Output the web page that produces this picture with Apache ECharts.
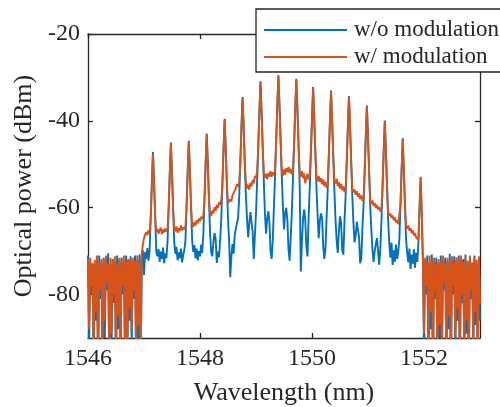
<!DOCTYPE html>
<html>
<head>
<meta charset="utf-8">
<script src="https://cdn.jsdelivr.net/npm/echarts@6/dist/echarts.min.js"></script>
<style>
html,body{margin:0;padding:0;background:#fff;}
#chart{width:500px;height:407px;}
</style>
</head>
<body>
<div id="chart"></div>
<script>
// Wavelength grid (nm)
const wavelength = [
1546,1546.02,1546.04,1546.06,1546.08,1546.1,1546.12,1546.14,1546.16,1546.18,
1546.2,1546.22,1546.24,1546.26,1546.28,1546.3,1546.32,1546.34,1546.36,1546.38,
1546.4,1546.42,1546.44,1546.46,1546.48,1546.5,1546.52,1546.54,1546.56,1546.58,
1546.6,1546.62,1546.64,1546.66,1546.68,1546.7,1546.72,1546.74,1546.76,1546.78,
1546.8,1546.82,1546.84,1546.86,1546.88,1546.9,1546.92,1546.94,1546.96,1546.98,
1547,1547.02,1547.04,1547.06,1547.08,1547.1,1547.12,1547.14,1547.16,1547.18,
1547.2,1547.22,1547.24,1547.26,1547.28,1547.3,1547.32,1547.34,1547.36,1547.38,
1547.4,1547.42,1547.44,1547.46,1547.48,1547.5,1547.52,1547.54,1547.56,1547.58,
1547.6,1547.62,1547.64,1547.66,1547.68,1547.7,1547.72,1547.74,1547.76,1547.78,
1547.8,1547.82,1547.84,1547.86,1547.88,1547.9,1547.92,1547.94,1547.96,1547.98,
1548,1548.02,1548.04,1548.06,1548.08,1548.1,1548.12,1548.14,1548.16,1548.18,
1548.2,1548.22,1548.24,1548.26,1548.28,1548.3,1548.32,1548.34,1548.36,1548.38,
1548.4,1548.42,1548.44,1548.46,1548.48,1548.5,1548.52,1548.54,1548.56,1548.58,
1548.6,1548.62,1548.64,1548.66,1548.68,1548.7,1548.72,1548.74,1548.76,1548.78,
1548.8,1548.82,1548.84,1548.86,1548.88,1548.9,1548.92,1548.94,1548.96,1548.98,
1549,1549.02,1549.04,1549.06,1549.08,1549.1,1549.12,1549.14,1549.16,1549.18,
1549.2,1549.22,1549.24,1549.26,1549.28,1549.3,1549.32,1549.34,1549.36,1549.38,
1549.4,1549.42,1549.44,1549.46,1549.48,1549.5,1549.52,1549.54,1549.56,1549.58,
1549.6,1549.62,1549.64,1549.66,1549.68,1549.7,1549.72,1549.74,1549.76,1549.78,
1549.8,1549.82,1549.84,1549.86,1549.88,1549.9,1549.92,1549.94,1549.96,1549.98,
1550,1550.02,1550.04,1550.06,1550.08,1550.1,1550.12,1550.14,1550.16,1550.18,
1550.2,1550.22,1550.24,1550.26,1550.28,1550.3,1550.32,1550.34,1550.36,1550.38,
1550.4,1550.42,1550.44,1550.46,1550.48,1550.5,1550.52,1550.54,1550.56,1550.58,
1550.6,1550.62,1550.64,1550.66,1550.68,1550.7,1550.72,1550.74,1550.76,1550.78,
1550.8,1550.82,1550.84,1550.86,1550.88,1550.9,1550.92,1550.94,1550.96,1550.98,
1551,1551.02,1551.04,1551.06,1551.08,1551.1,1551.12,1551.14,1551.16,1551.18,
1551.2,1551.22,1551.24,1551.26,1551.28,1551.3,1551.32,1551.34,1551.36,1551.38,
1551.4,1551.42,1551.44,1551.46,1551.48,1551.5,1551.52,1551.54,1551.56,1551.58,
1551.6,1551.62,1551.64,1551.66,1551.68,1551.7,1551.72,1551.74,1551.76,1551.78,
1551.8,1551.82,1551.84,1551.86,1551.88,1551.9,1551.92,1551.94,1551.96,1551.98,
1552,1552.02,1552.04,1552.06,1552.08,1552.1,1552.12,1552.14,1552.16,1552.18,
1552.2,1552.22,1552.24,1552.26,1552.28,1552.3,1552.32,1552.34,1552.36,1552.38,
1552.4,1552.42,1552.44,1552.46,1552.48,1552.5,1552.52,1552.54,1552.56,1552.58,
1552.6,1552.62,1552.64,1552.66,1552.68,1552.7,1552.72,1552.74,1552.76,1552.78,
1552.8,1552.82,1552.84,1552.86,1552.88,1552.9,1552.92,1552.94,1552.96,1552.98,
1553];

// Optical power without modulation (dBm)
const powerNoMod = [
-71,-92,-72.5,-80,-72.8,-99,-73,-86,-72,-99,
-71,-81,-72.8,-99,-71.5,-90,-72,-79,-70.5,-99,
-73,-93,-71.8,-82,-72.5,-99,-71,-88,-72,-97,
-71.5,-80,-72.8,-95,-71,-99,-72,-86,-71.2,-92,
-72.5,-81,-71,-99,-72,-91,-70.8,-99,-71.2,-69.8,
-75.5,-70.2,-71.8,-69.3,-72.2,-69.8,-62.2,-54.2,-47.2,-54.2,
-62.2,-70.2,-71.2,-69.5,-72.5,-70.1,-71.8,-69.2,-72.8,-70.5,
-71.6,-68,-60,-52,-45,-52,-60,-68,-70.6,-69,
-72.1,-70.3,-71.6,-69.4,-72.6,-70.9,-69.8,-67.6,-59.6,-51.6,
-44.6,-51.6,-59.6,-67.6,-70.2,-68.6,-71.6,-69.4,-72.1,-70,
-71.2,-68.5,-70.4,-65.9,-57.9,-49.9,-42.9,-49.9,-57.9,-65.9,
-70.3,-71.2,-67.8,-65.8,-67.4,-72.7,-70.1,-71.4,-67.5,-62.5,
-54.5,-46.5,-39.5,-46.5,-54.5,-62.5,-67.5,-76,-71.2,-68.4,
-70.6,-66.2,-64.8,-63.5,-62.5,-57.5,-49.5,-41.5,-34.5,-41.5,
-49.5,-57.5,-62.5,-66.8,-63.8,-61,-60.6,-65.5,-71.8,-66.5,
-61.2,-54,-46,-38,-30.9,-38,-46,-54,-61.5,-66,
-62.5,-60.8,-63.5,-70,-71.8,-67.5,-59.8,-52.6,-44.6,-36.6,
-29.5,-36.6,-44.6,-52.6,-59.6,-65,-61.2,-60,-62.8,-69.5,
-72.2,-67,-60.8,-53.4,-45.4,-37.4,-30.3,-37.4,-45.4,-55,
-74.7,-68,-62.5,-60.4,-63,-69,-71.2,-62,-55.3,-47.3,
-39.3,-32.2,-39.3,-47.3,-55.3,-61.8,-67,-63,-61.3,-62.4,
-68.8,-71.8,-69.5,-62.5,-56.1,-48.1,-40.1,-33,-40.1,-48.1,
-56.1,-62.8,-67.5,-70.4,-65.5,-62,-63.5,-69.8,-70.8,-63.2,
-57.4,-49.4,-41.4,-34.3,-41.4,-49.4,-57.4,-63.5,-68,-66.5,
-63.2,-63,-66.8,-72.8,-71.8,-64.8,-59.6,-51.6,-43.6,-36.5,
-43.6,-51.6,-59.6,-65.2,-69.8,-72.5,-70,-68.2,-67,-66.7,
-73.1,-69.5,-63,-55,-47,-39.9,-47,-55,-63,-68.2,
-71.5,-68,-73.2,-69.8,-72.4,-68.5,-71.8,-70.2,-67.3,-59.3,
-51.3,-44,-51.3,-59.3,-67.3,-70.5,-72.6,-69.4,-74.1,-70.8,
-72.9,-69.6,-73.8,-70.4,-72.5,-68.2,-60.2,-52.9,-61.5,-72.5,
-93,-72,-80,-71,-99,-72.8,-88,-70.8,-99,-72.2,
-81,-71.5,-99,-72.5,-90,-71,-97,-73,-79,-71.5,
-99,-72.2,-88,-70.6,-99,-72.8,-80,-71.2,-94,-72,
-86,-71,-99,-72.5,-82,-71.8,-96,-70.8,-89,-72.4,
-99,-71.2,-81,-72.6,-95,-71,-87,-72.8,-99,-71.5,
-86];

// Optical power with modulation (dBm)
const powerMod = [
-72,-88,-71.5,-78,-73,-95,-72,-84,-71,-99,
-72.5,-79,-71.8,-92,-72,-86,-71,-77,-73,-96,
-71.5,-89,-72,-80,-71.2,-97,-72.8,-85,-71.5,-94,
-72,-78,-71,-91,-72.5,-99,-71.8,-83,-72,-88,
-71.5,-79,-72.2,-95,-71,-87,-72.5,-98,-70.5,-68.5,
-67,-66.2,-65.6,-66.3,-65.2,-65.9,-62.5,-54.5,-47.5,-54.5,
-62.5,-65.6,-64.9,-66,-65.1,-64.6,-66.1,-65,-65.7,-64.8,
-65.5,-64.9,-60.3,-52.3,-45.3,-52.3,-60.3,-64.6,-65.4,-64.3,
-65.8,-64.7,-65.4,-64.1,-65.2,-64.5,-65,-64.2,-59.9,-51.9,
-44.9,-51.9,-59.9,-63.8,-64.4,-63.3,-64.1,-62.9,-63.6,-62.5,
-63.1,-62.1,-62.6,-61.6,-58.2,-50.2,-43.2,-50.2,-58.2,-61.3,
-61.9,-60.6,-61.3,-59.9,-60.7,-59.3,-60.1,-58.7,-59.3,-58.2,
-54.8,-46.8,-39.8,-46.8,-54.8,-58.9,-59.3,-58.1,-58.6,-57.1,
-57.5,-56.1,-55.5,-54.6,-55.1,-54.3,-49.8,-41.8,-34.8,-41.8,
-49.8,-54.2,-55.6,-54.7,-55.9,-54.3,-55.1,-53.6,-54.4,-52.7,
-53.2,-51.6,-46.2,-38.2,-31.2,-38.2,-46.2,-51.9,-53.1,-52.2,
-53.4,-52,-52.8,-51.6,-52.9,-51.8,-52.5,-51.3,-44.8,-36.8,
-29.8,-36.8,-44.8,-51.5,-52.6,-51.2,-52.4,-50.9,-51.8,-50.6,
-52,-51.1,-52.3,-51.2,-45.6,-37.6,-30.6,-37.6,-45.6,-51.7,
-52.8,-51.6,-53.2,-52.1,-54.4,-53,-52.2,-53.5,-52.4,-47.5,
-39.5,-32.5,-39.5,-47.5,-52.8,-53.9,-52.7,-54.1,-53.2,-54.6,
-53.5,-55,-54,-55.4,-54.8,-48.3,-40.3,-33.3,-40.3,-48.3,
-53.6,-54.4,-53.3,-55,-54.1,-55.6,-54.5,-56,-55.1,-56.4,
-55.6,-49.6,-41.6,-34.6,-41.6,-49.6,-55.6,-56.5,-55.8,-57,
-56.2,-57.5,-56.7,-58,-57.2,-58.4,-57.8,-51.8,-43.8,-36.8,
-43.8,-51.8,-58.4,-59.1,-58.3,-59.6,-58.9,-60.1,-59.3,-60.4,
-59.8,-60.9,-60.3,-55.2,-47.2,-40.2,-47.2,-55.2,-61.2,-61.9,
-61.3,-62.4,-61.8,-62.9,-62.2,-63.4,-62.8,-63.8,-63.5,-59.3,
-51.3,-44.3,-51.3,-59.3,-64.2,-64.8,-64.1,-65.3,-64.7,-65.9,
-65.2,-66.4,-65.8,-66.9,-66.5,-67.4,-60.2,-53.2,-61,-71.5,
-89,-71.5,-78,-72.5,-96,-71,-84,-72.2,-99,-71.5,
-79,-73,-97,-71.8,-87,-72.5,-92,-71,-77,-72.8,
-95,-71.5,-85,-72,-99,-71.2,-78,-72.6,-90,-71.4,
-83,-72,-98,-71,-80,-72.5,-93,-71.6,-86,-72.2,
-97,-71,-79,-72.8,-91,-71.5,-84,-72,-99,-71.2,
-82];

const seriesNames = ['w/o modulation', 'w/ modulation'];
const xTickValues = [1546, 1548, 1550, 1552];
const yTickValues = [-80, -60, -40, -20];

const FONT = '"Liberation Serif", "Times New Roman", serif';
const AX = '#262626';

const chart = echarts.init(document.getElementById('chart'), null, {renderer: 'canvas'});

function pairs(ys) { return wavelength.map((x, i) => [x, ys[i]]); }

function xAxisCfg(pos, labels) {
  return {
    type: 'value', position: pos, min: 1546, max: 1553,
    axisLine: {show: true, onZero: false, lineStyle: {color: AX, width: 1.3}},
    axisTick: {show: true, inside: true, length: 5, customValues: xTickValues, lineStyle: {color: AX, width: 1.3}},
    axisLabel: {show: labels, customValues: xTickValues, color: AX, fontFamily: FONT, fontSize: 24, margin: 9,
                formatter: v => String(v)},
    splitLine: {show: false},
    name: labels ? 'Wavelength (nm)' : '',
    nameLocation: 'middle', nameGap: 42,
    nameTextStyle: {color: AX, fontFamily: FONT, fontSize: 26}
  };
}
function yAxisCfg(pos, labels) {
  return {
    type: 'value', position: pos, min: -90, max: -20,
    axisLine: {show: true, onZero: false, lineStyle: {color: AX, width: 1.3}},
    axisTick: {show: true, inside: true, length: 5, customValues: yTickValues, lineStyle: {color: AX, width: 1.3}},
    axisLabel: {show: labels, customValues: yTickValues, color: AX, fontFamily: FONT, fontSize: 24, margin: 8,
                formatter: v => String(v)},
    splitLine: {show: false},
    name: labels ? 'Optical power (dBm)' : '',
    nameLocation: 'middle', nameGap: 45,
    nameTextStyle: {color: AX, fontFamily: FONT, fontSize: 26}
  };
}

chart.setOption({
  animation: false,
  backgroundColor: '#fff',
  grid: {left: 88, right: 20, top: 34, bottom: 69, containLabel: false, outerBoundsMode: 'none'},
  legend: {
    data: seriesNames,
    orient: 'vertical',
    left: 256, top: 9,
    icon: 'rect',
    itemWidth: 83, itemHeight: 2,
    itemGap: 1,
    padding: [8, 14, 2, 8],
    backgroundColor: '#fff',
    borderColor: AX, borderWidth: 1.3,
    textStyle: {color: AX, fontFamily: FONT, fontSize: 23, lineHeight: 26, padding: [0, 0, 0, 2]}
  },
  xAxis: [xAxisCfg('bottom', true), xAxisCfg('top', false)],
  yAxis: [yAxisCfg('left', true), yAxisCfg('right', false)],
  series: [
    {name: seriesNames[0], type: 'line', xAxisIndex: 0, yAxisIndex: 0, data: pairs(powerNoMod),
     showSymbol: false, symbol: 'none', clip: true, sampling: null,
     color: '#0072BD', lineStyle: {color: '#0072BD', width: 1.9}},
    {name: seriesNames[1], type: 'line', xAxisIndex: 0, yAxisIndex: 0, data: pairs(powerMod),
     showSymbol: false, symbol: 'none', clip: true, sampling: null,
     color: '#D95319', lineStyle: {color: '#D95319', width: 1.9}}
  ]
});
</script>
</body>
</html>
